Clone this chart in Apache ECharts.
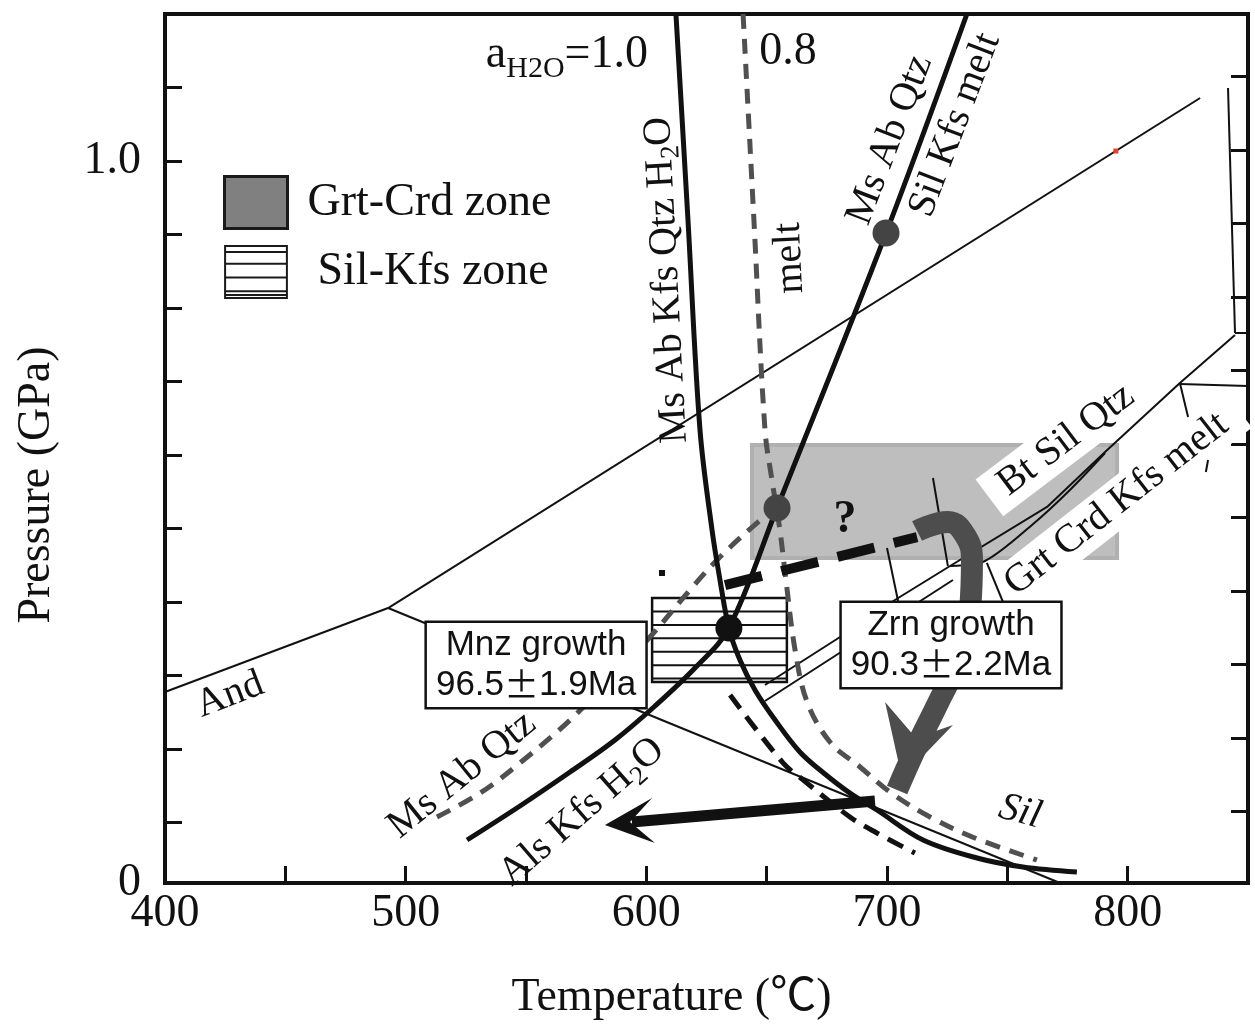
<!DOCTYPE html>
<html><head><meta charset="utf-8">
<script src="https://cdn.jsdelivr.net/npm/echarts@6/dist/echarts.min.js"></script>
<style>html,body{margin:0;padding:0;background:#fff}#c{width:1255px;height:1036px}</style>
</head><body><div id="c"></div>
<script>
// ---------- axes ----------
const tempRange = [400, 850];
const pressRange = [0.0177, 1.2];
const rightAxisRange = [0.0027, 1.185];
const xLabelValues = [400, 500, 600, 700, 800];
const yTickValues = [0.1, 0.2, 0.3, 0.4, 0.5, 0.6, 0.7, 0.8, 0.9, 1.0, 1.1];
const yLabelValues = [0.0177, 1.0];
const yLabelTexts = ['0', '1.0'];

// ---------- reaction curves (T in °C, P in GPa) ----------
const kyAnd = [[400, 0.2776], [492.7, 0.3918]];
const kySil = [[492.7, 0.3918], [830.1, 1.0857]];
const andSil = [[492.7, 0.3918], [771.9, 0.0177]];
const wetSolidus10 = [[612.3, 1.2], [617.3, 0.920], [622.3, 0.634], [627.3, 0.498], [630.6, 0.430], [634.3, 0.3646], [638.9, 0.321], [645.2, 0.280], [653.5, 0.2395], [663.8, 0.196], [674.2, 0.166], [684.6, 0.140], [695.8, 0.117], [715.0, 0.0762], [737.4, 0.0517], [756.5, 0.0395], [778.9, 0.0327]];
const wetSolidus08 = [[640.2, 1.2], [644.7, 0.920], [649.3, 0.634], [652.2, 0.566], [655.5, 0.498], [658.0, 0.430], [661.8, 0.3347], [666.8, 0.264], [676.3, 0.2095], [688.8, 0.1755], [701.2, 0.1415], [717.9, 0.1075], [735.7, 0.080], [762.3, 0.049]];
const msMelting = [[525.5, 0.0762], [547.5, 0.1225], [568.3, 0.1687], [587.0, 0.2123], [603.6, 0.2585], [620.2, 0.3102], [634.3, 0.3646], [654.3, 0.5279], [699.6, 0.902], [733.2, 1.2]];
const msAbQtz08 = [[513.0, 0.1075], [530.9, 0.140], [547.5, 0.181], [570.4, 0.246], [601.5, 0.3524], [618.1, 0.4163], [630.6, 0.4612], [646.4, 0.5088], [654.3, 0.5279]];
const lowerDashed = [[634.8, 0.2735], [656.8, 0.181], [665.1, 0.158], [684.6, 0.1075], [695.8, 0.0857], [711.6, 0.0585]];
const btSilUpper = [[649.3, 0.2871], [680.5, 0.3524], [703.3, 0.4027], [726.2, 0.4490], [766.5, 0.5293], [790.6, 0.6041], [821.7, 0.6980], [844.6, 0.7633]];
const btSilLower = [[649.3, 0.2653], [727.4, 0.4299]];
const grtCrdEdge = [[726.2, 0.4490], [740.7, 0.4558], [760.7, 0.5061], [776.0, 0.5524], [790.6, 0.6027]];
const shortTicks = [
  [[719.1, 0.5687], [725.3, 0.4490]],
  [[700.0, 0.4735], [704.6, 0.4014]],
  [[741.5, 0.4531], [748.2, 0.4000]],
  [[821.7, 0.6980], [825.1, 0.6517]],
  [[833.4, 0.5932], [832.5, 0.5769]],
  [[821.7, 0.6966], [850, 0.6939]],
  [[841.7, 1.0993], [844.6, 0.7660]],
  [[844.6, 0.7660], [850, 0.7660]]
];

// ---------- P-T path ----------
const questionPath = [[632.7, 0.423], [712.5, 0.4884]];
const grayPath = [[712.5, 0.4966], [725.3, 0.509], [732.4, 0.491], [735.3, 0.457], [734.5, 0.389], [729.5, 0.321], [720.8, 0.260], [711.6, 0.1986], [704.2, 0.1442]];
const grayHead = [[699.2, 0.264], [706.2, 0.1605], [727.4, 0.2327], [712.0, 0.215]];
const blackArrowShaft = [[695.0, 0.1293], [594.0, 0.1007]];
const blackArrowHead = [[582.8, 0.0966], [602.4, 0.1333], [593.2, 0.1007], [603.6, 0.0721]];

// ---------- zones & points ----------
const grtCrdZone = [[643.9, 0.4599], [795.6, 0.6136]];
const silKfsZone = [[602.4, 0.2912], [658.4, 0.4054]];
const blackDot = [[634.3, 0.3646]];
const grayDots = [[654.3, 0.5279], [699.6, 0.902]];
const smallMark = [[606.5, 0.4395]];
const redMark = [[795.1, 1.0136]];

// ---------- label anchors ----------
const anchorA = [567.0, 1.1442];
const anchor08 = [658.9, 1.1483];
const anchorWet = [608.6, 0.838];
const anchorMelt = [659.7, 0.868];
const anchorMsUp = [701.2, 1.0286];
const anchorSilKfs = [728.3, 1.049];
const anchorBtSil = [774.4, 0.6204];
const anchorGrtCrd = [796.0, 0.5347];
const anchorAnd = [427.0, 0.2735];
const anchorSil = [755.3, 0.1143];
const anchorMsLow = [523.4, 0.1646];
const anchorAls = [573.3, 0.1143];
const anchorQ = [682.5, 0.5116];
const anchorMnz = [554.2, 0.3143];
const anchorZrn = [726.6, 0.3415];

const SERIF = '"Liberation Serif","Times New Roman","Noto Sans CJK SC",serif';
const SANS = '"Liberation Sans",Arial,sans-serif';
const INK = '#111';

function line(data, lineStyle, z, smooth) {
  return { type: 'line', data, symbol: 'none', smooth: smooth || false, silent: true, z, lineStyle, animation: false };
}
function polygon(points, fill, z) {
  return { type: 'custom', silent: true, z, data: [points[0]], animation: false,
    renderItem: (p, api) => ({ type: 'polygon', shape: { points: points.map(q => api.coord(q)) }, style: { fill } }) };
}
const thin = { color: INK, width: 2 };
const thick = { color: INK, width: 5 };

const richSub = (size) => ({
  n: { fontFamily: SERIF, fontSize: size, lineHeight: size + 6, color: INK },
  s: { fontFamily: SERIF, fontSize: Math.round(size * 0.68), lineHeight: Math.round(size * 0.68), padding: [Math.round(size * 0.55), 0, 0, 0], color: INK }
});

function txt(pos, formatter, opts) {
  return { value: pos, label: Object.assign({ show: true, formatter, position: 'inside', align: 'center', verticalAlign: 'middle', color: INK, fontFamily: SERIF, fontSize: 40 }, opts || {}) };
}

const plainLabels = [
  txt(anchorA, '{n|a}{s|H2O}{n|=1.0}', { rich: { n: { fontFamily: SERIF, fontSize: 46, lineHeight: 50, color: INK }, s: { fontFamily: SERIF, fontSize: 30, lineHeight: 30, padding: [28, 0, 0, 0], color: INK } } }),
  txt(anchor08, '0.8', { fontSize: 46 }),
  txt(anchorWet, '{n|Ms Ab Kfs Qtz H}{s|2}{n|O}', { rotate: 93, rich: richSub(40) }),
  txt(anchorMelt, 'melt', { rotate: 93 }),
  txt(anchorMsUp, 'Ms Ab Qtz', { rotate: 69 }),
  txt(anchorSilKfs, 'Sil Kfs melt', { rotate: 69 }),
  txt(anchorAnd, 'And', { rotate: 21 }),
  txt(anchorSil, 'Sil', { rotate: -15, fontStyle: 'italic' }),
  txt(anchorMsLow, 'Ms Ab Qtz', { rotate: 39 }),
  txt(anchorAls, '{n|Als Kfs H}{s|2}{n|O}', { rotate: 41, rich: richSub(40) }),
  txt(anchorQ, '?', { fontSize: 46, fontWeight: 'bold' })
];
const whiteLabels = [
  txt(anchorBtSil, 'Bt Sil Qtz', { rotate: 37, backgroundColor: '#fff', padding: [4, 16, 2, 16] }),
  txt(anchorGrtCrd, 'Grt Crd Kfs melt', { rotate: 38, backgroundColor: '#fff', padding: [4, 18, 2, 14] })
];
const boxRich = {
  t: { fontFamily: SANS, fontSize: 35, lineHeight: 40, color: INK },
  pm: { fontFamily: '"Noto Sans CJK SC",sans-serif', fontSize: 35, lineHeight: 40, color: INK }
};
const boxLabels = [
  txt(anchorMnz, '{t|Mnz growth}\n{t|96.5}{pm|±}{t|1.9Ma}', { rich: boxRich, backgroundColor: '#fff', borderColor: INK, borderWidth: 2.5, padding: [2, 9, 2, 9] }),
  txt(anchorZrn, '{t|Zrn growth}\n{t|90.3}{pm|±}{t|2.2Ma}', { rich: boxRich, backgroundColor: '#fff', borderColor: INK, borderWidth: 2.5, padding: [2, 9, 2, 9] })
];
function labelSeries(data, z) {
  return { type: 'scatter', data, symbolSize: 1, itemStyle: { color: 'rgba(0,0,0,0)', opacity: 1 }, silent: true, z, animation: false };
}
function dots(data, color, size, symbol) {
  return { type: 'scatter', data, symbol: symbol || 'circle', symbolSize: size, itemStyle: { color, opacity: 1 }, silent: true, z: 7, animation: false };
}

const series = [
  { type: 'custom', name: 'Grt-Crd zone', silent: true, z: 1, data: [grtCrdZone[0]], animation: false,
    renderItem: (p, api) => {
      const a = api.coord(grtCrdZone[0]), b = api.coord(grtCrdZone[1]);
      return { type: 'rect', shape: { x: Math.min(a[0], b[0]), y: Math.min(a[1], b[1]), width: Math.abs(b[0] - a[0]), height: Math.abs(b[1] - a[1]) },
        style: { fill: '#bebebe', stroke: '#b0b0b0', lineWidth: 4 } };
    } },
  { type: 'custom', name: 'Sil-Kfs zone', silent: true, z: 2, data: [silKfsZone[0]], animation: false,
    renderItem: (p, api) => {
      const a = api.coord(silKfsZone[0]), b = api.coord(silKfsZone[1]);
      const x = Math.min(a[0], b[0]), y = Math.min(a[1], b[1]), w = Math.abs(b[0] - a[0]), h = Math.abs(b[1] - a[1]);
      const children = [{ type: 'rect', shape: { x, y, width: w, height: h }, style: { fill: '#fff', stroke: INK, lineWidth: 2.5 } }];
      for (let i = 1; i <= 6; i++) {
        const yy = y + h * 0.16 * i;
        children.push({ type: 'line', shape: { x1: x, y1: yy, x2: x + w, y2: yy }, style: { stroke: INK, lineWidth: 2 } });
      }
      return { type: 'group', children };
    } },
  labelSeries(whiteLabels, 3),
  line(kyAnd, thin, 4), line(kySil, thin, 4), line(andSil, thin, 4),
  line(btSilUpper, thin, 4), line(btSilLower, thin, 4), line(grtCrdEdge, thin, 4, 0.3),
  ...shortTicks.map(t => line(t, thin, 4)),
  line(wetSolidus08, { color: '#505050', width: 5, type: [15, 10] }, 5, 0.35),
  line(msAbQtz08, { color: '#505050', width: 5, type: [15, 10] }, 5, 0.35),
  line(lowerDashed, { color: INK, width: 5, type: [17, 10] }, 5, 0.35),
  line(wetSolidus10, thick, 5, 0.35),
  line(msMelting, thick, 5, 0.35),
  line(questionPath, { color: INK, width: 10, type: [38, 20] }, 6),
  line(grayPath, { color: '#4d4d4d', width: 22, cap: 'butt', join: 'round' }, 6, 0.45),
  polygon(grayHead, '#4d4d4d', 6),
  line(blackArrowShaft, { color: INK, width: 11 }, 6),
  polygon(blackArrowHead, INK, 6),
  dots(blackDot, INK, 27),
  dots(grayDots, '#444', 27),
  dots(smallMark, INK, 6, 'rect'),
  dots(redMark, '#e4412a', 5, 'rect'),
  labelSeries(plainLabels, 8),
  labelSeries(boxLabels, 9)
];

const chart = echarts.init(document.getElementById('c'), null, { renderer: 'canvas' });
chart.setOption({
  animation: false,
  backgroundColor: '#fff',
  grid: { left: 165, right: 7, top: 14, bottom: 153, show: true, borderColor: INK, borderWidth: 4, backgroundColor: 'transparent' },
  legend: {
    orient: 'vertical', left: 223, top: 175, padding: 0, itemWidth: 63, itemHeight: 52, itemGap: 15, selectedMode: false,
    data: [
      { name: 'Grt-Crd zone', icon: 'rect', itemStyle: { color: '#808080', borderColor: '#1a1a1a', borderWidth: 3 } },
      { name: 'Sil-Kfs zone', icon: 'path://M0,0H63V53H0Z M0,6H63 M0,18H63 M0,32H63 M0,46H63 M0,50H63', itemStyle: { color: '#fff', borderColor: '#1a1a1a', borderWidth: 2 } }
    ],
    formatter: name => name === 'Grt-Crd zone' ? '{a|' + name + '}' : '{b|' + name + '}',
    textStyle: { fontFamily: SERIF, fontSize: 46, color: INK,
      rich: { a: { fontFamily: SERIF, fontSize: 46, color: INK, padding: [0, 0, 0, 15] }, b: { fontFamily: SERIF, fontSize: 46, color: INK, padding: [0, 0, 0, 25] } } }
  },
  xAxis: {
    type: 'value', min: tempRange[0], max: tempRange[1], interval: 50,
    name: 'Temperature (℃)', nameLocation: 'middle', nameGap: 92,
    nameTextStyle: { fontFamily: SERIF, fontSize: 46, color: INK, padding: [0, 70, 0, 0] },
    axisLine: { lineStyle: { color: INK, width: 4 } },
    axisTick: { inside: true, length: 17, lineStyle: { color: INK, width: 3 } },
    axisLabel: { margin: 8, fontFamily: SERIF, fontSize: 46, color: INK, formatter: v => xLabelValues.includes(v) ? String(v) : '' },
    splitLine: { show: false }
  },
  yAxis: [
    {
      type: 'value', min: pressRange[0], max: pressRange[1],
      name: 'Pressure (GPa)', nameLocation: 'middle', nameGap: 105, nameRotate: 90,
      nameTextStyle: { fontFamily: SERIF, fontSize: 46, color: INK, padding: [0, 73, 0, 0] },
      axisLine: { show: true, lineStyle: { color: INK, width: 4 } },
      axisTick: { show: true, inside: true, length: 17, customValues: yTickValues, lineStyle: { color: INK, width: 3 } },
      axisLabel: { margin: 24, fontFamily: SERIF, fontSize: 46, color: INK, customValues: yLabelValues,
        formatter: v => yLabelTexts[yLabelValues.indexOf(v)] !== undefined ? yLabelTexts[yLabelValues.indexOf(v)] : '' },
      splitLine: { show: false }
    },
    {
      type: 'value', position: 'right', min: rightAxisRange[0], max: rightAxisRange[1],
      axisLine: { show: true, lineStyle: { color: INK, width: 4 } },
      axisTick: { show: true, inside: true, length: 17, customValues: yTickValues, lineStyle: { color: INK, width: 3 } },
      axisLabel: { show: false }, splitLine: { show: false }
    }
  ],
  series
});
</script></body></html>
